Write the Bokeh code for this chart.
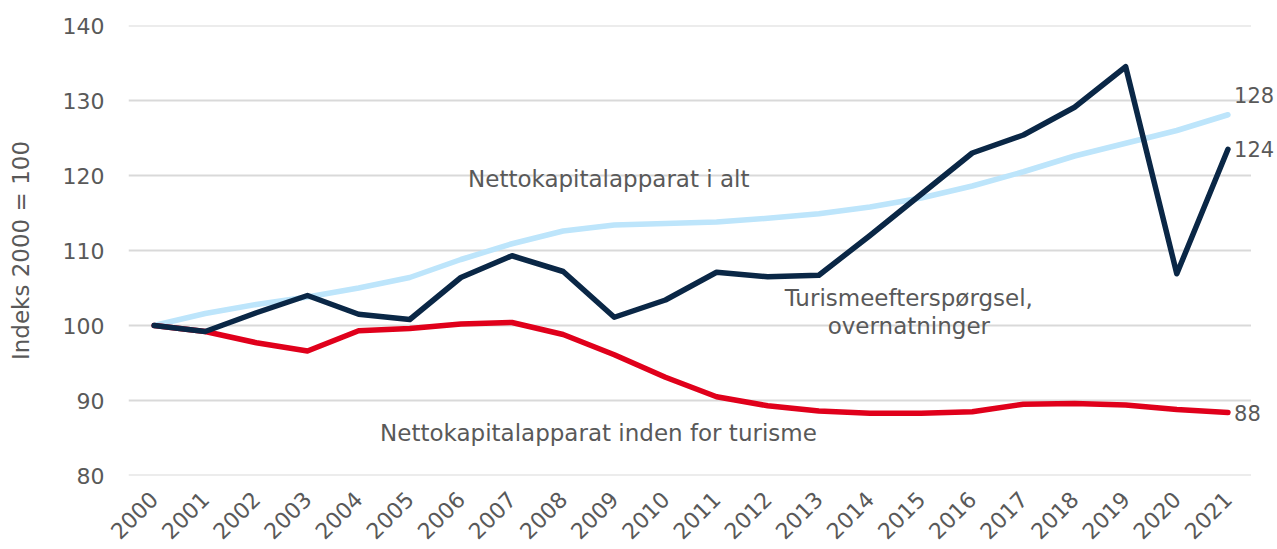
import math
from bokeh.plotting import figure
from bokeh.models import ColumnDataSource, FixedTicker, Range1d, Label
from bokeh.embed import file_html
from bokeh.resources import INLINE

years = list(range(2000, 2022))
tourism_demand = [100, 99.2, 101.7, 104.0, 101.5, 100.8, 106.4, 109.3, 107.2, 101.1, 103.4,
                  107.1, 106.5, 106.7, 112.0, 117.5, 123.0, 125.4, 129.1, 134.5, 106.9, 123.5]
capital_total = [100, 101.6, 102.8, 103.8, 105.0, 106.4, 108.8, 110.9, 112.6, 113.4, 113.6,
                 113.8, 114.3, 114.9, 115.8, 117.0, 118.6, 120.5, 122.6, 124.3, 126.0, 128.1]
capital_tourism = [100, 99.2, 97.7, 96.6, 99.3, 99.6, 100.2, 100.4, 98.8, 96.1, 93.1,
                   90.5, 89.3, 88.6, 88.3, 88.3, 88.5, 89.5, 89.6, 89.4, 88.8, 88.4]
y_ticks = [80, 90, 100, 110, 120, 130, 140]
end_labels = ["128", "124", "88"]
end_label_y = [130.7, 123.6, 88.4]

FONT = "DejaVu Sans"
GREY = "#595959"
X0, XGRID_END, X1 = 1999.5, 2021.45, 2021.93

src = ColumnDataSource(dict(year=years, demand=tourism_demand, total=capital_total, tour=capital_tourism))

p = figure(width=1275, height=549, output_backend="svg", toolbar_location=None,
           x_range=Range1d(X0, X1), y_range=Range1d(80, 140),
           min_border_left=128, min_border_right=0, min_border_top=25, min_border_bottom=74,
           frame_width=1147, frame_height=450)
p.outline_line_color = None
p.background_fill_color = "white"

p.xgrid.grid_line_color = None
p.ygrid.grid_line_color = None
p.yaxis.ticker = FixedTicker(ticks=y_ticks)
p.xaxis.ticker = FixedTicker(ticks=years)

for ax in (p.xaxis, p.yaxis):
    ax.axis_line_color = None
    ax.major_tick_line_color = None
    ax.minor_tick_line_color = None
    ax.major_label_text_font = FONT
    ax.major_label_text_font_size = "22px"
    ax.major_label_text_color = GREY

p.yaxis.major_label_standoff = 18
p.xaxis.major_label_orientation = math.pi / 4
p.xaxis.major_label_standoff = 14
p.yaxis.axis_label = "Indeks 2000 = 100"
p.yaxis.axis_label_text_font = FONT
p.yaxis.axis_label_text_font_size = "23px"
p.yaxis.axis_label_text_font_style = "normal"
p.yaxis.axis_label_text_color = GREY
p.yaxis.axis_label_standoff = 26

# horizontal grid lines, ending just after the last year
p.segment(x0=[X0] * len(y_ticks), x1=[XGRID_END] * len(y_ticks), y0=y_ticks, y1=y_ticks,
          line_color="#D9D9D9", line_width=2)

p.line("year", "total", source=src, line_color="#BDE5FB", line_width=5.5, line_cap="round", line_join="round")
p.line("year", "tour", source=src, line_color="#E0001B", line_width=5.5, line_cap="round", line_join="round")
p.line("year", "demand", source=src, line_color="#0A2746", line_width=5.5, line_cap="round", line_join="round")


def add_label(x, y, text, align="left", size="23px"):
    p.add_layout(Label(x=x, y=y, text=text, text_align=align, text_baseline="middle",
                       text_font=FONT, text_font_size=size, text_color=GREY))


add_label(2006.14, 119.6, "Nettokapitalapparat i alt")
add_label(2014.76, 103.7, "Turismeefterspørgsel,", "center")
add_label(2014.76, 100.0, "overnatninger", "center")
add_label(2004.42, 85.7, "Nettokapitalapparat inden for turisme")
for t, yv in zip(end_labels, end_label_y):
    add_label(years[-1] + 0.12, yv, t, size="21px")

open("out.html", "w").write(file_html(p, INLINE))
